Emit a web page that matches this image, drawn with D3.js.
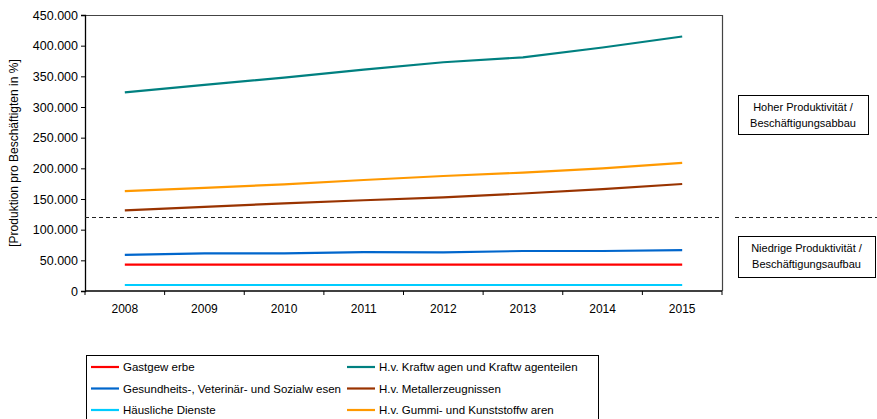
<!DOCTYPE html>
<html>
<head>
<meta charset="utf-8">
<script src="https://cdn.jsdelivr.net/npm/d3@7"></script>
<style>
  body { margin: 0; background: #fff; }
  svg text { font-family: "Liberation Sans", Arial, sans-serif; fill: #000; }
</style>
</head>
<body>
<div id="visHolder"></div>
<script>
// data
const years = ["2008", "2009", "2010", "2011", "2012", "2013", "2014", "2015"];
const gastgewerbe = [43000, 43000, 43000, 43000, 43000, 43000, 43000, 43000];
const gesundheit = [59000, 61400, 61400, 63500, 63000, 65200, 65200, 66800];
const haeuslich = [9800, 9800, 9800, 9800, 9800, 9800, 9800, 9800];
const kraftwagen = [324000, 336000, 348000, 361000, 373000, 381000, 397000, 415000];
const metall = [131500, 137000, 143000, 148000, 152500, 159000, 166000, 174500];
const gummi = [163000, 168000, 174000, 181000, 187500, 193000, 200000, 209000];
const threshold = 120000;
const yTicks = [0, 50000, 100000, 150000, 200000, 250000, 300000, 350000, 400000, 450000];
const seriesNames = ["Gastgew erbe", "Gesundheits-, Veterinär- und Sozialw esen", "Häusliche  Dienste",
    "H.v. Kraftw agen und Kraftw agenteilen", "H.v. Metallerzeugnissen", "H.v. Gummi- und Kunststoffw aren"];
const seriesColors = ["#ff0000", "#0066cc", "#00ccff", "#008080", "#993300", "#ff9900"];
const seriesValues = [gastgewerbe, gesundheit, haeuslich, kraftwagen, metall, gummi];
const boxTexts = [["Hoher Produktivität /", "Beschäftigungsabbau"], ["Niedrige Produktivität /", "Beschäftigungsaufbau"]];

let width = 877;
let height = 419;
let pLeft = 85, pRight = 722, pTop = 15, pBottom = 291;

let svg = d3.select("#visHolder")
    .append("svg")
    .attr("width", width)
    .attr("height", height);

let xScale = d3.scaleBand()
    .domain(years)
    .range([pLeft, pRight]);

let yScale = d3.scaleLinear()
    .domain([0, 450000])
    .range([pBottom, pTop]);

let fmt = d3.formatLocale({decimal: ",", thousands: ".", grouping: [3], currency: ["", "€"]}).format(",d");

// plot frame (top and right)
svg.append("path")
    .attr("d", `M${pLeft},${pTop + 0.5}H${pRight + 0.5}V${pBottom}`)
    .attr("fill", "none")
    .attr("stroke", "#444")
    .attr("stroke-width", 1.2);

// y axis
let yAxis = d3.axisLeft(yScale)
    .tickValues(yTicks)
    .tickFormat(fmt)
    .tickSize(4)
    .tickPadding(3);
let gy = svg.append("g")
    .attr("transform", `translate(${pLeft},0)`)
    .call(yAxis);
gy.select(".domain").attr("stroke", "#000").attr("stroke-width", 1.3);
gy.selectAll(".tick line").attr("stroke", "#000");
gy.selectAll("text").attr("font-size", 12.5).attr("font-family", "Liberation Sans, Arial, sans-serif");

// x axis with ticks between categories
let gx = svg.append("g")
    .attr("transform", `translate(0,${pBottom})`);
gx.append("line")
    .attr("x1", pLeft).attr("x2", pRight)
    .attr("stroke", "#000").attr("stroke-width", 1.3);
gx.selectAll(".sep")
    .data(years.concat(["end"]))
    .enter()
    .append("line")
    .attr("x1", (d, i) => pLeft + i * xScale.bandwidth())
    .attr("x2", (d, i) => pLeft + i * xScale.bandwidth())
    .attr("y1", 0).attr("y2", 4)
    .attr("stroke", "#000");
gx.selectAll(".lbl")
    .data(years)
    .enter()
    .append("text")
    .attr("x", d => xScale(d) + xScale.bandwidth() / 2)
    .attr("y", 22)
    .attr("text-anchor", "middle")
    .attr("font-size", 12)
    .text(d => d);

// y axis title
svg.append("text")
    .attr("transform", `translate(18,${(pTop + pBottom) / 2}) rotate(-90)`)
    .attr("text-anchor", "middle")
    .attr("font-size", 12)
    .text("[Produktion pro Beschäftigten in %]");

// threshold dashed line, inside and right of plot
let ty = Math.round(yScale(threshold)) + 0.5;
svg.append("line")
    .attr("x1", pLeft).attr("x2", pRight)
    .attr("y1", ty).attr("y2", ty)
    .attr("stroke", "#222").attr("stroke-dasharray", "4,3");
svg.append("line")
    .attr("x1", 735).attr("x2", width)
    .attr("y1", ty).attr("y2", ty)
    .attr("stroke", "#222").attr("stroke-dasharray", "4,3");

// series lines
let line = d3.line()
    .x((d, i) => xScale(years[i]) + xScale.bandwidth() / 2)
    .y(d => yScale(d));
svg.selectAll(".series")
    .data(seriesValues)
    .enter()
    .append("path")
    .attr("class", "series")
    .attr("d", d => line(d))
    .attr("fill", "none")
    .attr("stroke", (d, i) => seriesColors[i])
    .attr("stroke-width", 2.2);

// annotation boxes on the right
let boxes = [{x: 738, y: 95, w: 130, h: 39}, {x: 738, y: 236, w: 137, h: 41}];
boxes.forEach((b, i) => {
    svg.append("rect")
        .attr("x", b.x + 0.5).attr("y", b.y + 0.5)
        .attr("width", b.w).attr("height", b.h)
        .attr("fill", "#fff").attr("stroke", "#000");
    boxTexts[i].forEach((t, j) => {
        svg.append("text")
            .attr("x", b.x + b.w / 2)
            .attr("y", b.y + 16 + j * 16)
            .attr("text-anchor", "middle")
            .attr("font-size", 11)
            .text(t);
    });
});

// legend
svg.append("rect")
    .attr("x", 86.5).attr("y", 355.5)
    .attr("width", 512).attr("height", 70)
    .attr("fill", "#fff").attr("stroke", "#000");
let legend = svg.selectAll(".legend")
    .data(seriesNames)
    .enter()
    .append("g")
    .attr("transform", (d, i) => `translate(${i < 3 ? 91 : 347},${367 + (i % 3) * 21.5})`);
legend.append("line")
    .attr("x1", 0).attr("x2", 28)
    .attr("stroke", (d, i) => seriesColors[i])
    .attr("stroke-width", 2.2);
legend.append("text")
    .attr("x", 32)
    .attr("y", 4)
    .attr("font-size", 11.5)
    .text(d => d);
</script>
</body>
</html>
